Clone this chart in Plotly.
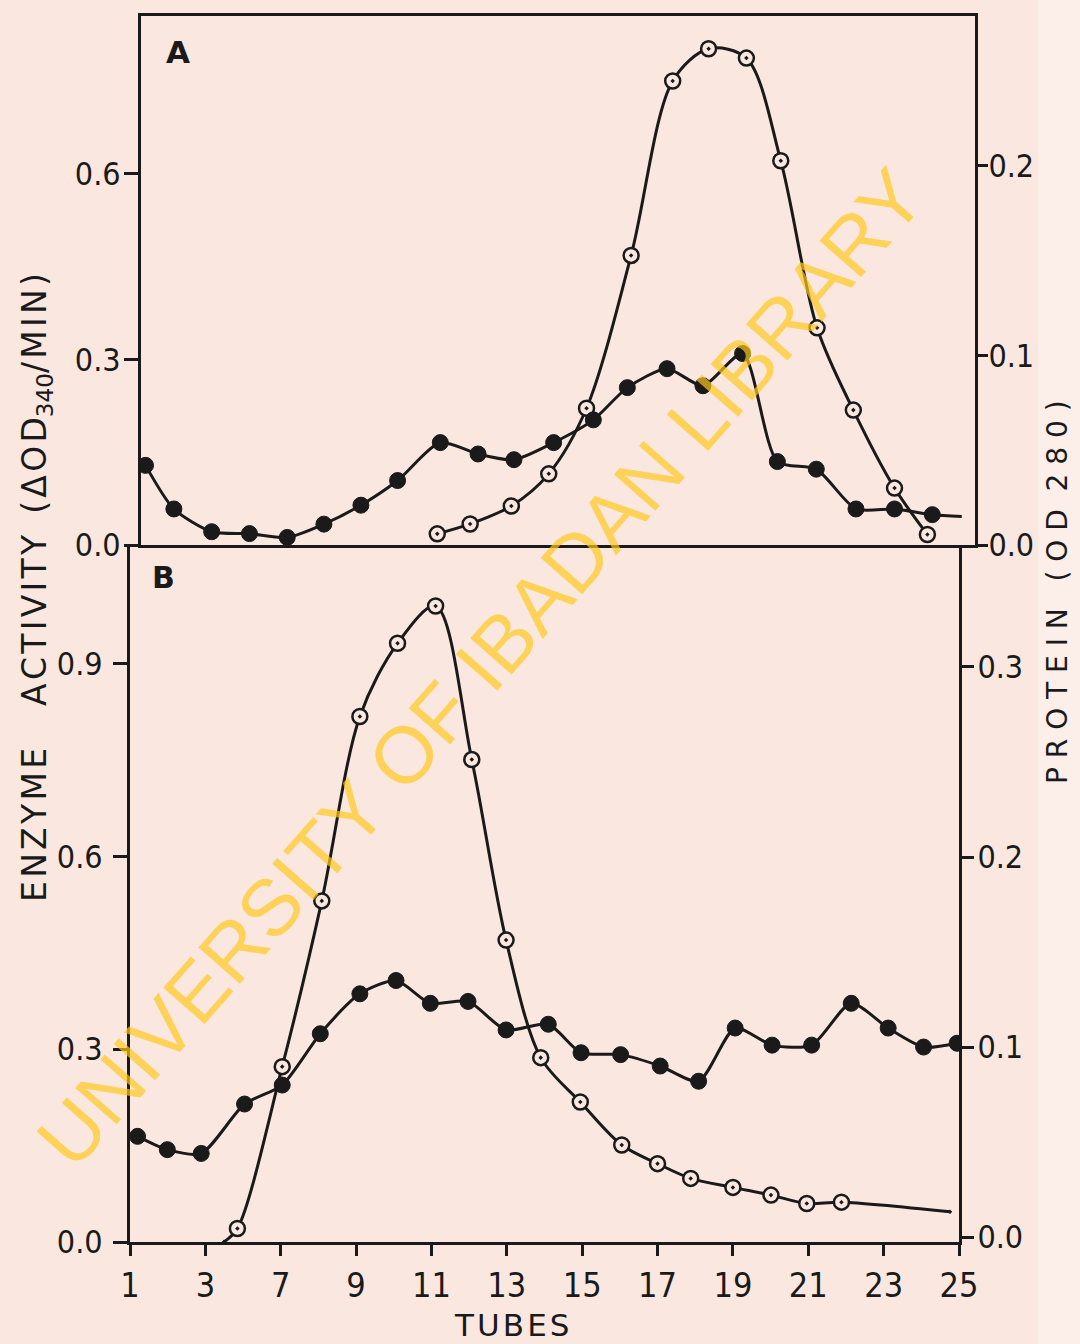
import plotly.graph_objects as go

# ---------------- data ----------------
# x = drawn tube position on the scale (tick labels printed below)
tick_pos = [1, 3, 5, 7, 9, 11, 13, 15, 17, 19, 21, 23]
tick_text = ["1", "3", "7", "9", "11", "13", "15", "17", "19", "21", "23", "25"]

# Panel A - protein (filled, right axis OD 280)
a_prot_x = [1.25, 2, 3, 4, 5, 5.97, 6.95, 7.92, 9.05, 10.05, 11, 12.05, 13.1, 14,
            15.05, 16, 17.05, 17.97, 19, 20.05, 21.07, 22.07, 22.85]
a_prot_y = [0.042, 0.019, 0.007, 0.006, 0.004, 0.011, 0.021, 0.034, 0.054, 0.048,
            0.045, 0.054, 0.066, 0.083, 0.093, 0.084, 0.101, 0.044, 0.040, 0.019,
            0.019, 0.016, 0.015]
a_prot_marker = [1] * 22 + [0]

# Panel A - enzyme activity (open, left axis)
a_enz_x = [8.97, 9.84, 10.93, 11.92, 12.92, 14.1, 15.2, 16.15, 17.15, 18.06,
           19.02, 19.98, 21.07, 21.94]
a_enz_y = [0.018, 0.034, 0.063, 0.115, 0.221, 0.468, 0.750, 0.802, 0.787, 0.621,
           0.351, 0.218, 0.092, 0.017]

# Panel B - protein (filled, right axis OD 280)
b_prot_x = [1.2, 1.99, 2.89, 4.04, 5.04, 6.05, 7.1, 8.06, 8.97, 9.97, 10.98, 12.1,
            12.97, 14.02, 15.07, 16.09, 17.06, 18.04, 19.09, 20.14, 21.12, 22.06, 22.95]
b_prot_y = [0.053, 0.046, 0.044, 0.070, 0.080, 0.107, 0.128, 0.135, 0.123, 0.124,
            0.109, 0.112, 0.097, 0.096, 0.090, 0.082, 0.110, 0.101, 0.101, 0.123,
            0.110, 0.100, 0.102]

# Panel B - enzyme activity (open, left axis)
b_enz_x = [3.49, 3.85, 5.04, 6.09, 7.1, 8.1, 9.11, 10.07, 10.98, 11.9, 12.95, 14.05,
           15.0, 15.88, 17.0, 18.01, 18.96, 19.88, 22.76]
b_enz_y = [0.0, 0.021, 0.273, 0.531, 0.818, 0.932, 0.990, 0.751, 0.470, 0.287,
           0.218, 0.151, 0.122, 0.099, 0.085, 0.073, 0.060, 0.062, 0.047]
b_enz_marker = [0] + [1] * 17 + [0]

left_ticks_a = [0.0, 0.3, 0.6]
right_ticks_a = [0.0, 0.1, 0.2]
left_ticks_b = [0.0, 0.3, 0.6, 0.9]
right_ticks_b = [0.0, 0.1, 0.2, 0.3]

# ---------------- styling ----------------
W, H = 1080, 1344
BG = "#FAE8E0"
INK = "#1a1a1a"
FONT = "DejaVu Sans"
TFONT = "DejaVu Sans Condensed, Liberation Sans Narrow, DejaVu Sans"
MS = 16
HS = "\u200a"  # hair space used as letter spacing


def spaced(word):
    return HS.join(word)


def px(x):
    return x / W


def py(y):
    return 1 - y / H


fig = go.Figure()


def filled(x, y, xa, ya, sizes=None):
    s = [MS * v for v in sizes] if sizes else MS
    return go.Scatter(x=x, y=y, xaxis=xa, yaxis=ya, mode="lines+markers",
                      line=dict(color=INK, width=3, shape="spline", smoothing=0.7),
                      marker=dict(symbol="circle", size=s, color=INK, opacity=1,
                                  line=dict(color=INK, width=1)),
                      showlegend=False, hoverinfo="skip")


def opened(x, y, xa, ya, sizes=None):
    s = [(MS - 1) * v for v in sizes] if sizes else MS - 1
    return go.Scatter(x=x, y=y, xaxis=xa, yaxis=ya, mode="lines+markers",
                      line=dict(color=INK, width=3, shape="spline", smoothing=0.9),
                      marker=dict(symbol="circle-dot", size=s, color=BG, opacity=1,
                                  line=dict(color=INK, width=2.5)),
                      showlegend=False, hoverinfo="skip")


fig.add_trace(opened(a_enz_x, a_enz_y, "x", "y"))
fig.add_trace(filled(a_prot_x, a_prot_y, "x", "y2", a_prot_marker))
fig.add_trace(opened(b_enz_x, b_enz_y, "x2", "y3", b_enz_marker))
fig.add_trace(filled(b_prot_x, b_prot_y, "x2", "y4"))


def axis_style(ticklen=12, standoff=0, size=32):
    return dict(showline=True, linecolor=INK, linewidth=3, ticks="outside",
                ticklen=ticklen, tickwidth=3, tickcolor=INK, showgrid=False,
                zeroline=False, tickfont=dict(family=TFONT, size=size, color=INK),
                automargin=False, ticklabelstandoff=standoff)


A_TOP, A_BOT = 16, 545
B_TOP, B_BOT = 545, 1242

fig.update_layout(
    width=W, height=H,
    margin=dict(l=0, r=0, t=0, b=0, pad=0, autoexpand=False),
    paper_bgcolor=BG, plot_bgcolor=BG,
    xaxis=dict(domain=[px(141), px(975)], range=[1.13, 23.2], anchor="y",
               showline=True, mirror=True, linecolor=INK, linewidth=3,
               showticklabels=False, ticks="", showgrid=False, zeroline=False,
               automargin=False),
    yaxis=dict(domain=[py(A_BOT), py(A_TOP)], range=[0, 0.855], anchor="x",
               tickvals=left_ticks_a, tickformat=".1f",
               **axis_style(ticklen=14, standoff=-3)),
    yaxis2=dict(overlaying="y", side="right", anchor="x", range=[0, 0.279],
                tickvals=right_ticks_a, tickformat=".1f",
                **axis_style(ticklen=10, standoff=-6)),
    xaxis2=dict(domain=[px(130), px(959)], range=[1, 23], anchor="y3",
                tickvals=tick_pos, ticktext=tick_text,
                **axis_style(ticklen=11, standoff=0, size=34)),
    yaxis3=dict(domain=[py(B_BOT), py(B_TOP)], range=[0, 1.085], anchor="x2",
                tickvals=left_ticks_b, tickformat=".1f",
                **axis_style(ticklen=14, standoff=4)),
    yaxis4=dict(overlaying="y3", side="right", anchor="x2", range=[-0.0026, 0.3642],
                tickvals=right_ticks_b, tickformat=".1f",
                **axis_style(ticklen=12, standoff=-3)),
)

# lighter strip at the right edge of the scan
fig.add_shape(type="rect", xref="paper", yref="paper", x0=px(1038), x1=1, y0=0, y1=1,
              fillcolor="#FCEEE8", line=dict(width=0), layer="below")

left_title = (spaced("ENZYME") + "    " + spaced("ACTIVITY") + "  "
              + spaced("(ΔOD") + "<sub>340</sub>" + spaced("/MIN)"))
right_title = " ".join("PROTEIN") + "   ( " + " ".join("OD") + "  " + " ".join("280") + " )"

ann = []
ann.append(dict(text="<b>A</b>", x=px(178), y=py(52), showarrow=False,
                font=dict(family=FONT, size=31, color=INK), xanchor="center",
                yanchor="middle"))
ann.append(dict(text="<b>B</b>", x=px(163), y=py(577), showarrow=False,
                font=dict(family=FONT, size=30, color=INK), xanchor="center",
                yanchor="middle"))
ann.append(dict(text=left_title, x=px(36), y=py(588),
                textangle=-90, showarrow=False,
                font=dict(family=FONT, size=33, color=INK),
                xanchor="center", yanchor="middle"))
ann.append(dict(text=right_title, x=px(1057), y=py(592), textangle=-90,
                showarrow=False, font=dict(family=FONT, size=28, color=INK),
                xanchor="center", yanchor="middle"))
ann.append(dict(text=HS.join("TUBES"), x=px(512), y=py(1325), showarrow=False,
                font=dict(family=FONT, size=31, color=INK),
                xanchor="center", yanchor="middle"))
ann.append(dict(text="UNIVERSITY OF IBADAN LIBRARY", x=px(480), y=py(668),
                textangle=-48.7, showarrow=False,
                font=dict(family="Liberation Sans", size=80,
                          color="rgba(255,200,30,0.70)"),
                xanchor="center", yanchor="middle"))
for a in ann:
    a.setdefault("xref", "paper")
    a.setdefault("yref", "paper")
fig.update_layout(annotations=ann)

fig.write_html("out.html")
